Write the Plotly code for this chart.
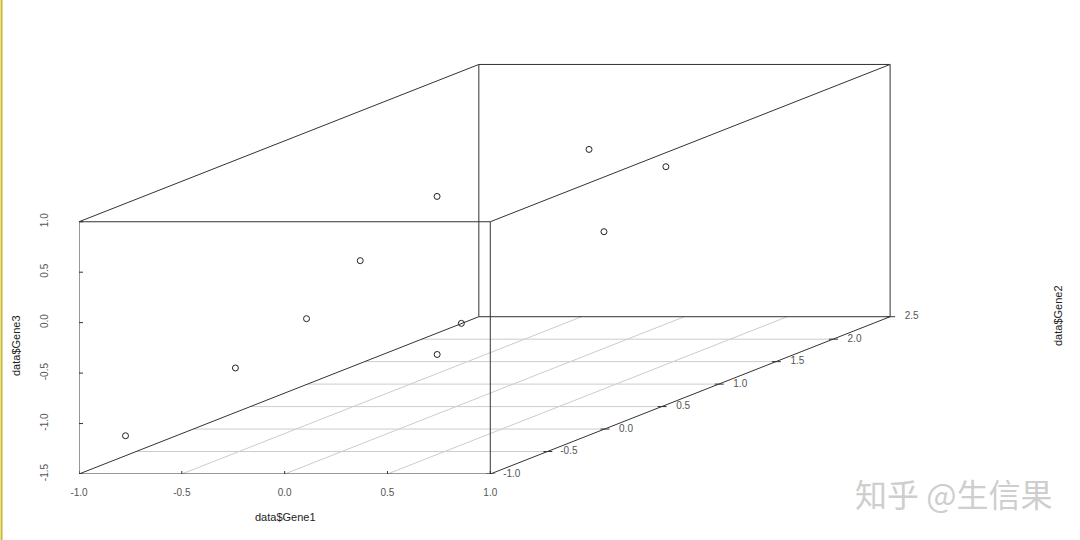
import plotly.graph_objects as go

# Data
gene1 = [-0.885, -0.517, -0.338, -0.188, 0.019, 0.026, 0.075, 0.258, 0.465, 0.275]
gene2 = [-0.8, -0.5, -0.2, 0.0, 0.3, 0.5, 0.2, 1.2, 1.5, 1.3]
gene3 = [-1.21, -0.672, -0.317, 0.169, 0.672, -0.675, -0.85, 0.737, 0.432, -0.123]

gene1_ticks = [-1.0, -0.5, 0.0, 0.5, 1.0]
gene2_ticks = [-1.0, -0.5, 0.0, 0.5, 1.0, 1.5, 2.0, 2.5]
gene3_ticks = [-1.5, -1.0, -0.5, 0.0, 0.5, 1.0]
gene1_labels = ["-1.0", "-0.5", "0.0", "0.5", "1.0"]
gene2_labels = ["-1.0", "-0.5", "0.0", "0.5", "1.0", "1.5", "2.0", "2.5"]
gene3_labels = ["-1.5", "-1.0", "-0.5", "0.0", "0.5", "1.0"]

W, H = 1080, 540
L, B = 78.5, 66.0
PX_X = 205.75  # pixels per Gene1 unit
PX_Y = 100.9   # pixels per Gene3 unit
KX = 0.5555    # oblique shift per Gene2 unit
KY = 0.4454

x_lo, x_hi = gene1_ticks[0], gene1_ticks[-1]
y_lo, y_hi = gene2_ticks[0], gene2_ticks[-1]
z_lo, z_hi = gene3_ticks[0], gene3_ticks[-1]


def proj(g1, g2, g3):
    return g1 + KX * (g2 - y_lo), g3 + KY * (g2 - y_lo)


def seg(points):
    xs, ys = [], []
    for a, b in points:
        p, q = proj(*a), proj(*b)
        xs += [p[0], q[0], None]
        ys += [p[1], q[1], None]
    return xs, ys


fig = go.Figure()

# Floor grid
grid = [((x_lo, v, z_lo), (x_hi, v, z_lo)) for v in gene2_ticks[1:-1]]
grid += [((v, y_lo, z_lo), (v, y_hi, z_lo)) for v in gene1_ticks[1:-1]]
gx, gy = seg(grid)
fig.add_trace(go.Scatter(x=gx, y=gy, mode="lines", line=dict(color="#cccccc", width=1), hoverinfo="skip", cliponaxis=False))

# Box
box = [
    ((x_lo, y_lo, z_lo), (x_hi, y_lo, z_lo)),
    ((x_lo, y_lo, z_hi), (x_hi, y_lo, z_hi)),
    ((x_lo, y_lo, z_lo), (x_lo, y_lo, z_hi)),
    ((x_hi, y_lo, z_lo), (x_hi, y_lo, z_hi)),
    ((x_lo, y_hi, z_lo), (x_hi, y_hi, z_lo)),
    ((x_lo, y_hi, z_hi), (x_hi, y_hi, z_hi)),
    ((x_lo, y_hi, z_lo), (x_lo, y_hi, z_hi)),
    ((x_hi, y_hi, z_lo), (x_hi, y_hi, z_hi)),
    ((x_lo, y_lo, z_lo), (x_lo, y_hi, z_lo)),
    ((x_hi, y_lo, z_lo), (x_hi, y_hi, z_lo)),
    ((x_lo, y_lo, z_hi), (x_lo, y_hi, z_hi)),
    ((x_hi, y_lo, z_hi), (x_hi, y_hi, z_hi)),
]
bx, by = seg(box)
fig.add_trace(go.Scatter(x=bx, y=by, mode="lines", line=dict(color="#333333", width=1), hoverinfo="skip", cliponaxis=False))

# Tick marks
tx, ty = [], []
for v in gene1_ticks:
    px, py = proj(v, y_lo, z_lo)
    tx += [px, px, None]
    ty += [py + 3 / PX_Y, py - 3 / PX_Y, None]
for v in gene3_ticks:
    px, py = proj(x_lo, y_lo, v)
    tx += [px - 4 / PX_X, px + 4 / PX_X, None]
    ty += [py, py, None]
for v in gene2_ticks:
    px, py = proj(x_hi, v, z_lo)
    tx += [px - 4 / PX_X, px + 5 / PX_X, None]
    ty += [py, py, None]
fig.add_trace(go.Scatter(x=tx, y=ty, mode="lines", line=dict(color="#333333", width=1), hoverinfo="skip", cliponaxis=False))

# Gene2 tick labels
lab = [proj(x_hi, v, z_lo) for v in gene2_ticks]
fig.add_trace(go.Scatter(
    x=[p[0] + 21.5 / PX_X for p in lab], y=[p[1] for p in lab],
    mode="text", text=gene2_labels, textposition="middle center", cliponaxis=False,
    textfont=dict(family="Liberation Sans", size=10, color="#555555"), hoverinfo="skip",
))

# Points
pts = [proj(a, b, c) for a, b, c in zip(gene1, gene2, gene3)]
fig.add_trace(go.Scatter(
    x=[p[0] for p in pts], y=[p[1] for p in pts], mode="markers", cliponaxis=False,
    marker=dict(symbol="circle-open", size=6, color="#222222", line=dict(width=1, color="#222222")),
))


def fx(px):
    return (px - L) / (W - L)


def fy(py):
    return (H - B - py) / (H - B)


title_font = dict(family="Liberation Sans", size=11, color="#222222")
anns = [
    dict(text="data$Gene1", x=fx(285), y=fy(517), textangle=0, font=title_font),
    dict(text="data$Gene3", x=fx(15.5), y=fy(346), textangle=-90, font=title_font),
    dict(text="data$Gene2", x=fx(1058), y=fy(316), textangle=-90, font=title_font),
    dict(text="知乎 @生信果", x=fx(953), y=fy(493), textangle=0,
         font=dict(family="Noto Sans CJK SC", size=32, color="#cecece")),
]
for a in anns:
    a.update(xref="paper", yref="paper", xanchor="center", yanchor="middle", showarrow=False)

fig.update_layout(
    width=W, height=H, showlegend=False,
    paper_bgcolor="white", plot_bgcolor="white",
    margin=dict(l=L, r=0, t=0, b=B, pad=0),
    annotations=anns,
    shapes=[dict(type="rect", xref="paper", yref="paper", x0=fx(0), x1=fx(2), y0=fy(540), y1=fy(0),
                 fillcolor="#c9b92e", line=dict(width=0), layer="above")],
    xaxis=dict(
        range=[-1, -1 + (W - L) / PX_X], showgrid=False, zeroline=False, showline=False,
        tickmode="array", tickvals=gene1_ticks, ticktext=gene1_labels,
        ticks="outside", ticklen=9, tickcolor="rgba(0,0,0,0)",
        tickfont=dict(family="Liberation Sans", size=10, color="#555555"), tickangle=0,
    ),
    yaxis=dict(
        range=[z_lo, z_lo + (H - B) / PX_Y], showgrid=False, zeroline=False, showline=False,
        tickmode="array", tickvals=gene3_ticks, ticktext=gene3_labels,
        ticks="outside", ticklen=26, tickcolor="rgba(0,0,0,0)",
        tickfont=dict(family="Liberation Sans", size=10, color="#555555"), tickangle=-90,
    ),
)

fig.write_html(
    "out.html",
    config={"displayModeBar": False},
    post_script="document.body.style.margin='0';document.documentElement.style.overflow='hidden';",
)
